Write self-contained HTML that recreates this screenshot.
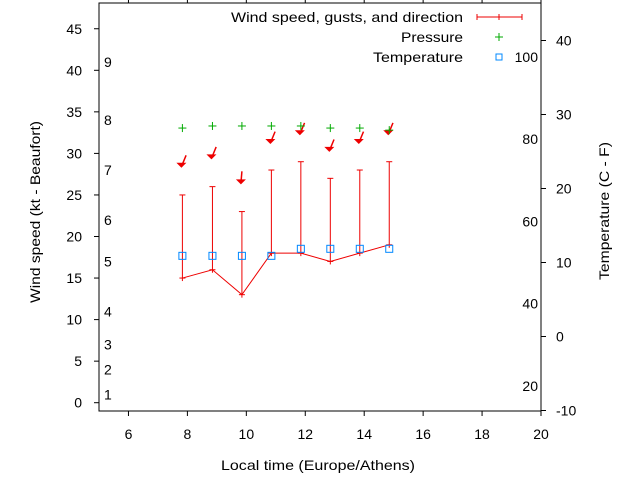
<!DOCTYPE html>
<html><head><meta charset="utf-8"><style>
body{margin:0;background:#fff}
svg{display:block;font-family:"Liberation Sans",sans-serif;font-size:14px}
</style></head><body>
<svg id="chart" width="640" height="480">
<g id="axes"></g><g id="marks"></g>
<g>
<text x="463" y="22" text-anchor="end" textLength="232" lengthAdjust="spacingAndGlyphs">Wind speed, gusts, and direction</text>
<g stroke="#e00" stroke-width="1"><line x1="477" y1="17" x2="522" y2="17"/><line x1="477" y1="14" x2="477" y2="20"/><line x1="522" y1="14" x2="522" y2="20"/><line x1="499" y1="14" x2="499" y2="20"/></g>
<text x="463" y="42" text-anchor="end" textLength="62" lengthAdjust="spacingAndGlyphs">Pressure</text>
<g stroke="#0a0"><line x1="495" y1="37" x2="503" y2="37"/><line x1="499" y1="33" x2="499" y2="41"/></g>
<text x="463" y="62" text-anchor="end" textLength="90" lengthAdjust="spacingAndGlyphs">Temperature</text>
<rect x="496" y="54" width="6" height="6" fill="none" stroke="#08f"/>
</g>
</svg>
<script>
const times=[7.83,8.85,9.85,10.85,11.85,12.85,13.85,14.85];
const wind=[15,16,13,18,18,17,18,19];
const gusts=[25,26,23,28,29,27,28,29];
const pressure=[33.05,33.3,33.3,33.3,33.3,33.05,33.05,32.8];
const arrowLevel=[28.4,29.4,26.4,31.25,32.3,30.3,31.25,32.3];
const direction=[18,18,0,18,18,18,18,18];
const tempC=[10.9,10.9,10.9,10.9,11.85,11.85,11.85,11.85];
const xTicks=[6,8,10,12,14,16,18,20];
const yTicks=[0,5,10,15,20,25,30,35,40,45];
const y2Ticks=[-10,0,10,20,30,40];
const fTicks=[20,40,60,80,100];
const beaufort=[[1,1],[2,4],[3,7],[4,11],[5,17],[6,22],[7,28],[8,34],[9,41]];

const L=99,R=541,T=3,B=411;
const X=t=>L+(t-5)*(R-L)/15;
const Y=v=>402.7-v*8.31;
const Y2=c=>410.5-(c+10)*7.4;
const NS='http://www.w3.org/2000/svg';
function mk(tag,attrs,parent,txt){const e=document.createElementNS(NS,tag);for(const k in attrs)e.setAttribute(k,attrs[k]);if(txt!==undefined)e.textContent=txt;parent.appendChild(e);return e;}
const ax=document.getElementById('axes'),mg=document.getElementById('marks');
let e=mk('rect',{x:L,y:T,width:R-L,height:B-T,fill:'none',stroke:'#000'},ax);


xTicks.forEach(t=>{const x=X(t);
 mk('line',{x1:x,y1:B,x2:x,y2:B+5,stroke:'#000'},ax);
 mk('line',{x1:x,y1:T,x2:x,y2:T-4,stroke:'#000'},ax);
 const tx=mk('text',{x:x,y:439,'text-anchor':'middle'},ax,t);
 
 });
yTicks.forEach(v=>{const y=Y(v);
 mk('line',{x1:L,y1:y,x2:L-5,y2:y,stroke:'#000'},ax);
 const tx=mk('text',{x:82,y:y+5,'text-anchor':'end'},ax,v);
 
 });
y2Ticks.forEach(v=>{const y=Y2(v);
 mk('line',{x1:R,y1:y,x2:R+5,y2:y,stroke:'#000'},ax);
 const tx=mk('text',{x:556,y:y+5,'text-anchor':'start'},ax,v);
 
 });
fTicks.forEach(f=>{const y=Y2((f-32)*5/9);
 const tx=mk('text',{x:538,y:y+5,'text-anchor':'end'},ax,f);
 
 });
beaufort.forEach(b=>{const tx=mk('text',{x:104,y:Y(b[1])+5},ax,b[0]);
 
 });
e=mk('text',{x:318,y:470,'text-anchor':'middle',textLength:194,lengthAdjust:'spacingAndGlyphs'},ax,'Local time (Europe/Athens)');


e=mk('text',{x:0,y:0,'text-anchor':'middle',textLength:182,lengthAdjust:'spacingAndGlyphs',transform:'translate(40,212) rotate(-90)'},ax,'Wind speed (kt - Beaufort)');


e=mk('text',{x:0,y:0,'text-anchor':'middle',textLength:138,lengthAdjust:'spacingAndGlyphs',transform:'translate(609,211) rotate(-90)'},ax,'Temperature (C - F)');



e=mk('polyline',{points:times.map((t,i)=>X(t)+','+Y(wind[i])).join(' '),fill:'none',stroke:'#e00'},mg);


times.forEach((t,i)=>{const x=X(t),y1=Y(wind[i]),y2=Y(gusts[i]);
 const g=mk('g',{stroke:'#e00'},mg);
 
 
 mk('line',{x1:x,y1:y1+3,x2:x,y2:y2},g);
 mk('line',{x1:x-3,y1:y2,x2:x+3,y2:y2},g);
 mk('line',{x1:x-3,y1:y1,x2:x+3,y2:y1},g);
 const ty=Y(arrowLevel[i]),a=direction[i]*Math.PI/180;
 const tx0=x+12*Math.sin(a),ty0=ty-12*Math.cos(a);
 const ar=mk('g',{},mg);
 
 
 mk('line',{x1:tx0,y1:ty0,x2:x-1,y2:ty,stroke:'#e00','stroke-width':1.5},ar);
 mk('polygon',{points:`${x-1},${ty+1} ${x-6},${ty-4} ${x+4},${ty-4}`,fill:'#e00'},ar);
 const p=mk('g',{stroke:'#0a0'},mg);
 
 
 const py=Y(pressure[i]);
 mk('line',{x1:x-4,y1:py,x2:x+4,y2:py},p);mk('line',{x1:x,y1:py-4,x2:x,y2:py+4},p);
 const sq=mk('rect',{x:x-3.5,y:Y2(tempC[i])-3.5,width:7,height:7,fill:'none',stroke:'#08f'},mg);
 
 
});
</script>
</body></html>
